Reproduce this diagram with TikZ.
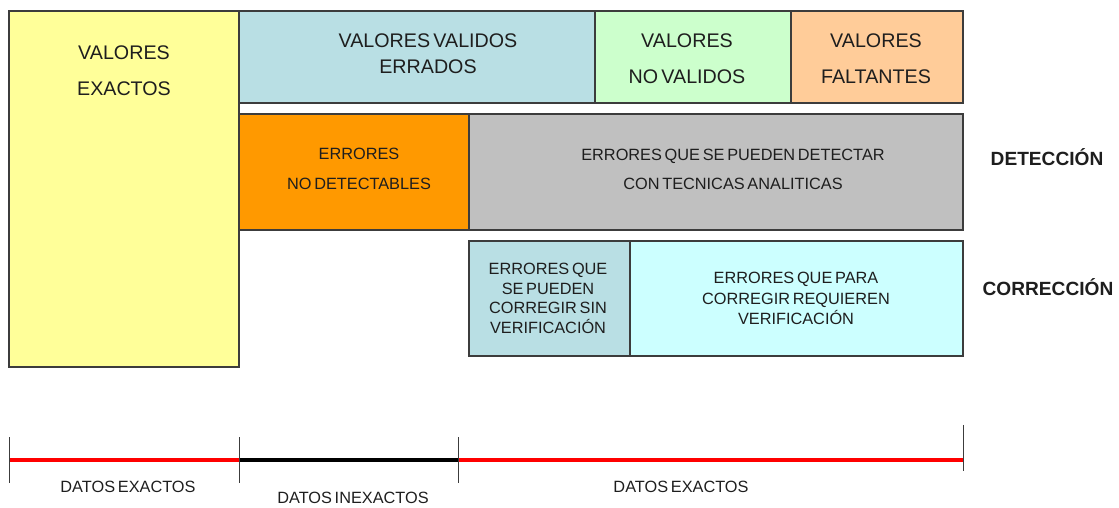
\documentclass[tikz,border=0pt]{standalone}
\usepackage{fontspec}
\setmainfont{Liberation Sans}[WordSpace=0.6]
\usepackage{xcolor}
\usetikzlibrary{fit}

\definecolor{borde}{HTML}{3C3C3C}
\definecolor{tinta}{HTML}{1E1E1E}
\definecolor{amarillo}{HTML}{FFFF99}
\definecolor{celeste}{HTML}{B9DFE4}
\definecolor{verdeclaro}{HTML}{CCFFCC}
\definecolor{durazno}{HTML}{FFCC99}
\definecolor{naranja}{HTML}{FF9900}
\definecolor{gris}{HTML}{C0C0C0}
\definecolor{turquesa}{HTML}{CCFFFF}
\definecolor{rojo}{HTML}{FF0000}

\begin{document}
\begin{tikzpicture}[x=0.025cm,y=-0.025cm,
  blk/.style={draw=borde,line width=0.9pt,inner sep=0pt},
  txt/.style 2 args={align=center,text=tinta,inner sep=0pt,
                     font={\fontsize{#1}{#2}\selectfont}},
  fase/.style={text=tinta,inner sep=0pt,font={\fontsize{13.6}{16}\selectfont\bfseries}},
  tick/.style={draw=borde,line width=0.7pt},
  tramo/.style={line width=2.8pt}]
  \useasboundingbox (0,0) rectangle (1119,507);
  % --- valores: first row ---
  \node[blk,fill=amarillo,fit={(9,11)(239,367)}]     (vexact) {};
  \node[blk,fill=celeste,fit={(239,11)(595,103)}]    (verrad) {};
  \node[blk,fill=verdeclaro,fit={(595,11)(791,103)}] (vnoval) {};
  \node[blk,fill=durazno,fit={(791,11)(963,103)}]    (vfalta) {};
  \node[txt={14}{25.6}] (vexactT) at (124,71) {VALORES\\EXACTOS};
  \node[txt={14}{18.5}] (verradT) at (428,54) {VALORES VALIDOS\\ERRADOS};
  \node[txt={14}{25.6}] (vnovalT) at (687,59) {VALORES\\NO VALIDOS};
  \node[txt={14}{25.6}] (vfaltaT) at (876,59) {VALORES\\FALTANTES};
  % --- deteccion ---
  \node[blk,fill=naranja,fit={(239,114)(469,230)}]   (nodet) {};
  \node[blk,fill=gris,fit={(469,114)(963,230)}]      (sidet) {};
  \node[txt={11.6}{21}] (nodetT) at (359,169) {ERRORES\\NO DETECTABLES};
  \node[txt={11.6}{20.6}] (sidetT) at (733,169.5) {ERRORES QUE SE PUEDEN DETECTAR\\CON TECNICAS ANALITICAS};
  \node[fase] (detec) at (1047,157) {DETECCIÓN};
  % --- correccion ---
  \node[blk,fill=celeste,fit={(469,241)(630,356)}]   (sinver) {};
  \node[blk,fill=turquesa,fit={(630,241)(963,356)}]  (conver) {};
  \node[txt={11.6}{14}] (sinverT) at (548,298.5) {ERRORES QUE\\SE PUEDEN\\CORREGIR SIN\\VERIFICACIÓN};
  \node[txt={11.6}{14.5}] (converT) at (796,298.5) {ERRORES QUE PARA\\CORREGIR REQUIEREN\\VERIFICACIÓN};
  \node[fase] (correc) at (1048,287) {CORRECCIÓN};
  % --- escala de datos ---
  \coordinate (a1) at (9,460);
  \coordinate (a2) at (239,460);
  \coordinate (a3) at (458,460);
  \coordinate (a4) at (963,460);
  \draw[tramo,rojo] (a1) -- (a2);
  \draw[tramo,black,line width=3.4pt] (a2) -- (a3);
  \draw[tramo,rojo] (a3) -- (a4);
  \foreach \c in {a1,a2,a3}
    \draw[tick] ([yshift=0.575cm]\c) -- ([yshift=-0.575cm]\c);
  \draw[tick] ([yshift=0.875cm]a4) -- ([yshift=-0.275cm]a4);
  \node[txt={11.6}{14}] (dexa1) at (128,487) {DATOS EXACTOS};
  \node[txt={11.6}{14}] (dinex) at (353,498) {DATOS INEXACTOS};
  \node[txt={11.6}{14}] (dexa2) at (681,487) {DATOS EXACTOS};
\end{tikzpicture}
\end{document}
